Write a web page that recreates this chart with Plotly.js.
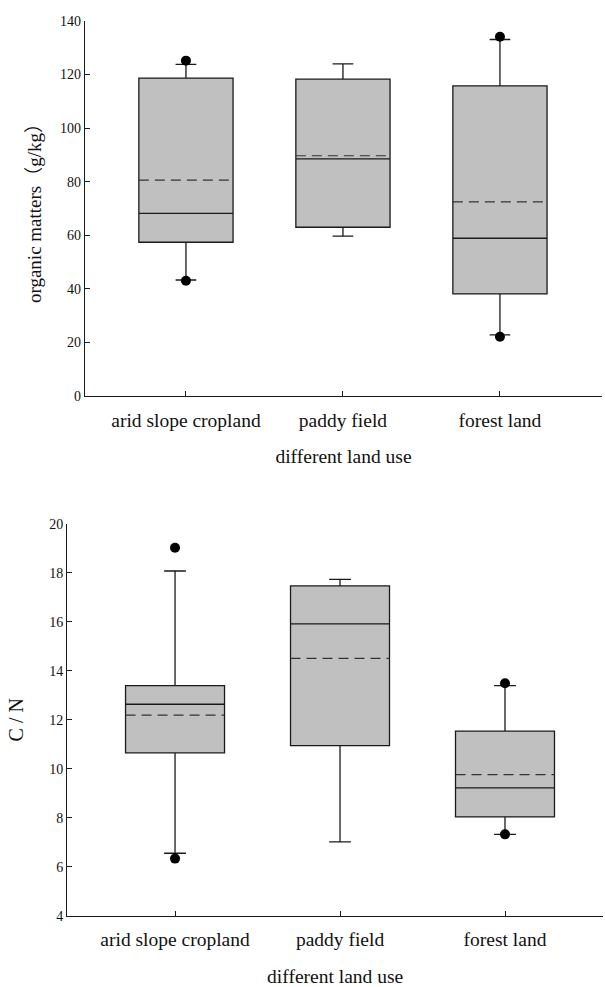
<!DOCTYPE html>
<html>
<head>
<meta charset="utf-8">
<script src="https://cdn.plot.ly/plotly-3.0.1.min.js"></script>
<style>html,body{margin:0;padding:0;background:#fff;}#chart{width:605px;height:987px;}</style>
</head>
<body>
<div id="chart"></div>
<script>
// Categories
const categories = ['arid slope cropland', 'paddy field', 'forest land'];

// Organic matters (g/kg) box statistics
const omLower  = [43.3, 59.7, 22.8];
const omQ1     = [57.4, 63.0, 38.1];
const omMedian = [68.2, 88.5, 58.9];
const omMean   = [80.6, 89.7, 72.5];
const omQ3     = [118.7, 118.3, 115.8];
const omUpper  = [123.8, 124.0, 133.1];
const omOutCat = ['arid slope cropland', 'arid slope cropland', 'forest land', 'forest land'];
const omOutY   = [125.2, 43.0, 134.1, 22.1];

// C/N box statistics
const cnLower  = [6.55, 7.01, 7.32];
const cnQ1     = [10.65, 10.94, 8.03];
const cnMedian = [12.63, 15.91, 9.22];
const cnMean   = [12.19, 14.5, 9.76];
const cnQ3     = [13.39, 17.46, 11.53];
const cnUpper  = [18.07, 17.73, 13.39];
const cnOutCat = ['arid slope cropland', 'arid slope cropland', 'forest land', 'forest land'];
const cnOutY   = [19.02, 6.33, 13.49, 7.32];

const omTicks = [0, 20, 40, 60, 80, 100, 120, 140];
const cnTicks = [4, 6, 8, 10, 12, 14, 16, 18, 20];

const serif = 'Liberation Serif, Times New Roman, serif';
const lineCol = '#1a1a1a';
const BOX_W = 0.6;
const catIdx = categories.map((c, i) => i);

function boxTrace(xa, ya, lo, q1, med, q3, up) {
  return {
    type: 'box', xaxis: xa, yaxis: ya,
    x: catIdx, lowerfence: lo, q1: q1, median: med, q3: q3, upperfence: up,
    boxmean: false, boxpoints: false, width: BOX_W, whiskerwidth: 0.22,
    fillcolor: '#c0c0c0', line: {color: lineCol, width: 1.3},
    hoverinfo: 'skip', showlegend: false
  };
}
function meanTrace(xa, ya, mean) {
  const xs = [], ys = [];
  mean.forEach((m, i) => { xs.push(i - BOX_W / 2, i + BOX_W / 2, null); ys.push(m, m, null); });
  return {
    type: 'scatter', mode: 'lines', xaxis: xa, yaxis: ya, x: xs, y: ys,
    line: {color: '#333', width: 1.2, dash: '10px,6px'}, hoverinfo: 'skip', showlegend: false
  };
}
function outTrace(xa, ya, cats, ys) {
  return {
    type: 'scatter', mode: 'markers', xaxis: xa, yaxis: ya,
    x: cats.map(c => categories.indexOf(c)), y: ys,
    marker: {color: '#000', size: 10}, hoverinfo: 'skip', showlegend: false
  };
}

const data = [
  boxTrace('x', 'y', omLower, omQ1, omMedian, omQ3, omUpper),
  meanTrace('x', 'y', omMean),
  outTrace('x', 'y', omOutCat, omOutY),
  boxTrace('x2', 'y2', cnLower, cnQ1, cnMedian, cnQ3, cnUpper),
  meanTrace('x2', 'y2', cnMean),
  outTrace('x2', 'y2', cnOutCat, cnOutY)
];

function xAx(domain, range, anchor, standoff) {
  return {
    domain: domain, anchor: anchor, range: range,
    tickvals: catIdx, ticktext: categories,
    showline: true, linecolor: lineCol, linewidth: 1.2,
    ticks: 'inside', ticklen: 5, tickcolor: lineCol, tickwidth: 1,
    ticklabelstandoff: 6,
    showgrid: false, zeroline: false,
    tickfont: {family: serif, size: 19.5, color: '#111'},
    title: {text: 'different land use', font: {family: serif, size: 19.5, color: '#111'}, standoff: standoff}
  };
}
function yAx(domain, range, ticks, anchor, title, size, standoff) {
  return {
    domain: domain, anchor: anchor, range: range, tickvals: ticks, ticktext: ticks.map(String),
    showline: true, linecolor: lineCol, linewidth: 1.2,
    ticks: 'inside', ticklen: 5, tickcolor: lineCol, tickwidth: 1,
    showgrid: false, zeroline: false,
    tickfont: {family: serif, size: 14, color: '#111'},
    title: {text: title, font: {family: serif + ', Noto Sans CJK SC', size: size, color: '#111'}, standoff: standoff}
  };
}

const layout = {
  width: 605, height: 987,
  margin: {l: 0, r: 0, t: 0, b: 0},
  paper_bgcolor: '#fff', plot_bgcolor: 'rgba(0,0,0,0)',
  showlegend: false,
  xaxis: xAx([85/605, 602/605], [-0.643, 2.65], 'y', 19),
  yaxis: yAx([(987-396)/987, (987-21)/987], [0, 140], omTicks, 'x', 'organic matters（g/kg）', 19, 13),
  xaxis2: xAx([67.3/605, 603/605], [-0.653, 2.594], 'y2', 22),
  yaxis2: yAx([(987-915.7)/987, (987-523.7)/987], [4, 20], cnTicks, 'x2', 'C / N', 20, 20)
};

Plotly.newPlot('chart', data, layout, {staticPlot: true, displayModeBar: false});
</script>
</body>
</html>
